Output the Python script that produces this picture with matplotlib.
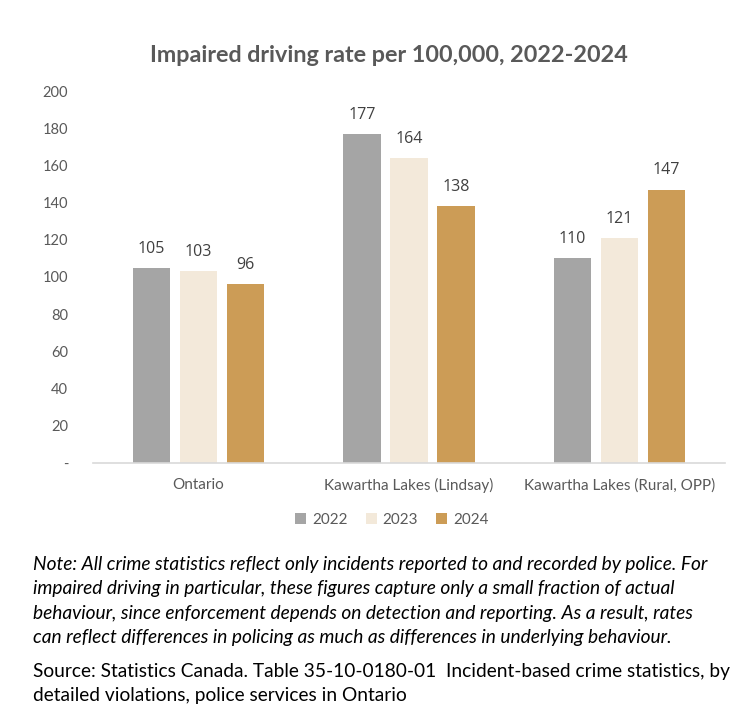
import matplotlib
matplotlib.use("Agg")
import matplotlib.pyplot as plt
import numpy as np

categories = ["Ontario", "Kawartha Lakes (Lindsay)", "Kawartha Lakes (Rural, OPP)"]
years = ["2022", "2023", "2024"]
values_2022 = [105, 177, 110]
values_2023 = [103, 164, 121]
values_2024 = [96, 138, 147]
yticks = [0, 20, 40, 60, 80, 100, 120, 140, 160, 180, 200]
ytick_labels = ["-", "20", "40", "60", "80", "100", "120", "140", "160", "180", "200"]
colors = ["#A5A5A5", "#F3E9DA", "#CC9C56"]

title = "Impaired driving rate per 100,000, 2022-2024"
note = ("Note: All crime statistics reflect only incidents reported to and recorded by police. For\n"
        "impaired driving in particular, these figures capture only a small fraction of actual\n"
        "behaviour, since enforcement depends on detection and reporting. As a result, rates\n"
        "can reflect differences in policing as much as differences in underlying behaviour.")
source = ("Source: Statistics Canada. Table 35-10-0180-01  Incident-based crime statistics, by\n"
          "detailed violations, police services in Ontario")

plt.rcParams['font.family'] = ['Lato', 'DejaVu Sans']

W, H = 734, 718
fig = plt.figure(figsize=(W / 100, H / 100), dpi=100)
ax = fig.add_axes([93 / W, (H - 463) / H, (725 - 93) / W, (463 - 91) / H])

x = np.arange(len(categories))
width = 0.176
offset = 0.223
series = [values_2022, values_2023, values_2024]
for i, (vals, col, yr) in enumerate(zip(series, colors, years)):
    bars = ax.bar(x + (i - 1) * offset, vals, width, color=col, label=yr)
    for b, v in zip(bars, vals):
        ax.text(b.get_x() + b.get_width() / 2, v + 6, str(v), ha="center", va="bottom",
                fontsize=11.5, color="#404040", family=['Open Sans', 'DejaVu Sans'])

ax.set_xlim(-0.5, 2.5)
ax.set_ylim(0, 200)
ax.set_yticks(yticks)
ax.set_yticklabels(ytick_labels, fontsize=10.5, color="#595959")
ax.set_xticks(x)
ax.set_xticklabels(categories, fontsize=11, color="#595959")
ax.tick_params(axis="y", length=0, pad=18)
ax.tick_params(axis="x", length=0, pad=11)
for s in ["top", "right", "left"]:
    ax.spines[s].set_visible(False)
ax.spines["bottom"].set_color("#D9D9D9")
ax.spines["bottom"].set_linewidth(1.2)

leg = fig.legend(loc="center", bbox_to_anchor=(392 / W, (H - 520) / H), ncol=3, frameon=False,
                 fontsize=11, handlelength=0.7, handleheight=0.7, handletextpad=0.4,
                 columnspacing=1.2, labelcolor="#595959")

fig.text(389 / W, (H - 56) / H, title, ha="center", va="center", fontsize=16.8,
         fontweight="bold", color="#595959")

fig.text(33 / W, (H - 556) / H, note, ha="left", va="top", fontsize=13.8,
         style="italic", color="#000000", linespacing=1.52)
fig.text(33 / W, (H - 663) / H, source, ha="left", va="top", fontsize=13.8,
         color="#000000", linespacing=1.52)

fig.savefig("out.png", dpi=100, facecolor="white")
